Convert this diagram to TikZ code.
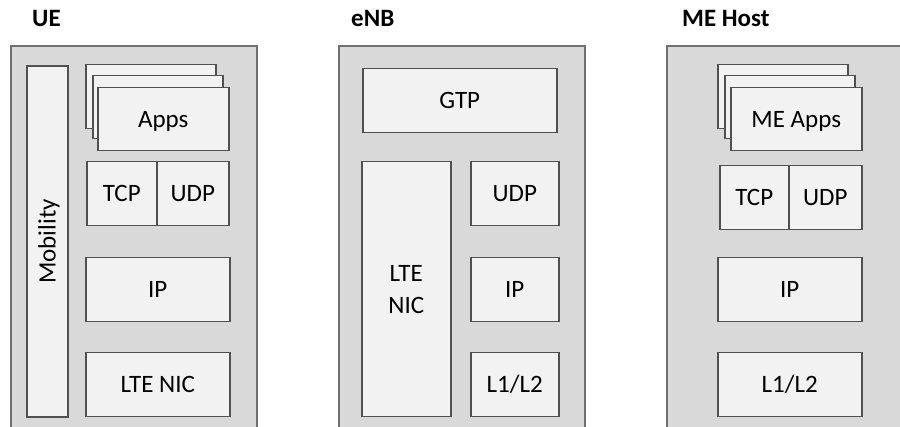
\documentclass[tikz,border=0pt]{standalone}
\usepackage{fontspec}
\setmainfont{Carlito}
\definecolor{outerfill}{HTML}{D9D9D9}
\definecolor{outerline}{HTML}{707070}
\definecolor{innerfill}{HTML}{F2F2F2}
\definecolor{innerline}{HTML}{505050}
\begin{document}
\begin{tikzpicture}[x=1pt,y=-1pt,
  outerbox/.style={draw=outerline, fill=outerfill, line width=1.6pt, rectangle, anchor=north west, inner sep=0pt},
  layer/.style={draw=innerline, fill=innerfill, line width=1.5pt, rectangle, anchor=north west, inner sep=0pt,
    font=\fontsize{25}{30}\selectfont, text height=16pt, text depth=0pt},
  title/.style={anchor=base west, inner sep=0pt, font=\fontsize{25}{30}\selectfont\bfseries}
]
\useasboundingbox (0,0) rectangle (900,427);
\clip (0,0) rectangle (900,427);

% titles
\node[title] (tue) at (32,27) {UE};
\node[title] (tenb) at (351,27) {eNB};
\node[title] (tme) at (682,27) {ME Host};

% outer boxes
\node[outerbox, minimum width=246, minimum height=420] (ue) at (10,45) {};
\node[outerbox, minimum width=246, minimum height=420] (enb) at (338,45) {};
\node[outerbox, minimum width=260, minimum height=420] (me) at (666,45) {};

% UE
\node[layer, rotate=90, anchor=center, minimum width=351, minimum height=41] (mob) at (47.5,241.5) {Mobility};
\node[layer, minimum width=130, minimum height=64] (app1) at (85,64) {};
\node[layer, minimum width=130, minimum height=63] (app2) at (92,75) {};
\node[layer, minimum width=131, minimum height=63] (app3) at (97,87) {Apps};
\node[layer, minimum width=70, minimum height=64] (uetcp) at (86,161) {TCP};
\node[layer, minimum width=72, minimum height=64] (ueudp) at (156,161) {UDP};
\node[layer, minimum width=144, minimum height=64] (ueip) at (85,257) {IP};
\node[layer, minimum width=144, minimum height=64] (uelte) at (85,352) {LTE NIC};

% eNB
\node[layer, minimum width=194, minimum height=64] (gtp) at (362,68) {GTP};
\node[layer, minimum width=89, minimum height=255, align=center, text height=, text depth=, font=\fontsize{25}{32}\selectfont] (enblte) at (361,161) {LTE\\NIC};
\node[layer, minimum width=88, minimum height=64] (enbudp) at (470,161) {UDP};
\node[layer, minimum width=88, minimum height=64] (enbip) at (470,257) {IP};
\node[layer, minimum width=88, minimum height=64] (enbl) at (470,352) {L1/L2};

% ME Host
\node[layer, minimum width=130, minimum height=64] (meapp1) at (717,64) {};
\node[layer, minimum width=130, minimum height=63] (meapp2) at (724,75) {};
\node[layer, minimum width=131, minimum height=63] (meapp3) at (730,87) {ME Apps};
\node[layer, minimum width=69, minimum height=64] (metcp) at (719,165) {TCP};
\node[layer, minimum width=73, minimum height=64] (meudp) at (788,165) {UDP};
\node[layer, minimum width=144, minimum height=64] (meip) at (717,257) {IP};
\node[layer, minimum width=144, minimum height=64] (mel) at (717,352) {L1/L2};
\end{tikzpicture}
\end{document}
